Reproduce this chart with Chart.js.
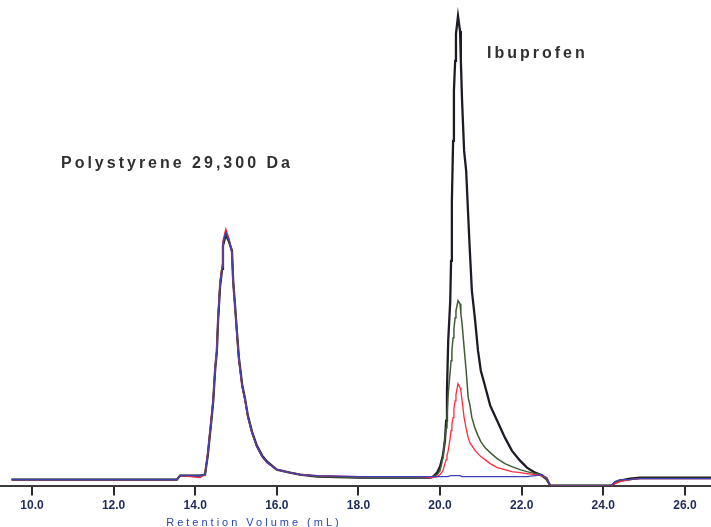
<!DOCTYPE html>
<html>
<head>
<meta charset="utf-8">
<script src="https://cdn.jsdelivr.net/npm/chart.js@4.4.1/dist/chart.umd.min.js"></script>
<style>
  html, body { margin: 0; padding: 0; background: #fff; }
  #chart { display: block; }
</style>
</head>
<body>
<canvas id="chart" width="711" height="527"></canvas>
<script>
// Retention volume grid (mL), shared by all four detector traces
const volume = [
  9.5, 12.0, 13.55, 13.63, 14.12, 14.24,
  14.31, 14.41, 14.44, 14.49, 14.53, 14.56, 14.61, 14.66, 14.68,
  14.75,
  14.83, 14.90, 14.93, 14.98, 15.02, 15.07, 15.15, 15.22, 15.29, 15.39, 15.51, 15.64, 15.76,
  16.00, 16.32, 16.57, 17.0, 18.0, 19.0, 19.6,
  19.76, 19.83, 19.93, 20.00, 20.07, 20.12, 20.15, 20.17, 20.20,
  20.25, 20.27, 20.29, 20.32, 20.34, 20.37, 20.39, 20.44,
  20.49, 20.51, 20.54, 20.59, 20.64, 20.69, 20.73, 20.78,
  20.86, 20.93, 21.00, 21.10, 21.23, 21.40, 21.59, 21.76,
  21.96, 22.13, 22.33, 22.50, 22.62, 22.70,
  24.20, 24.29, 24.41, 24.66, 24.90, 26.64,
];

// Detector response (arbitrary units)
const blackSignal = [
  -1, -1, -1, 3, 3, 4,
  24, 64, 77, 110, 127, 158, 193, 210, 233,
  244,
  237, 228, 198, 171, 148, 121, 94, 80, 63, 47, 33, 23, 17,
  9, 6, 4, 2, 1, 1, 1,
  1, 2, 6, 12, 23, 38, 58, 88, 138,
  178, 218, 278, 338, 388, 418, 445, 463,
  448, 418, 378, 328, 308, 263, 228, 188,
  158, 128, 108, 93, 73, 58, 41, 28,
  18, 11, 6, 3, -1, -7,
  -7, -4, -2, 0, 1, 1,
];

const greenSignal = [
  -1, -1, -1, 3, 3, 4,
  25, 65, 78, 111, 128, 160, 195, 211, 235,
  246,
  238, 227, 197, 170, 147, 120, 93, 79, 62, 46, 32, 22, 16,
  9, 6, 4, 2, 1, 1, 1,
  1, 2, 4, 8, 21, 41, 51, 61, 85,
  108, 118, 128, 141, 150, 161, 168, 178,
  175, 165, 155, 131, 108, 81, 74, 61,
  50, 43, 37, 31, 26, 20, 15, 12,
  9, 7, 5, 4, -2, -7,
  -7, -4, -2, -1, 0, 0,
];

const redSignal = [
  -1, -1, -1, 3, 1, 4,
  27, 67, 80, 113, 130, 163, 198, 214, 238,
  250,
  240, 226, 196, 169, 146, 119, 92, 79, 62, 46, 32, 22, 16,
  9, 6, 4, 3, 2, 2, 2,
  1, 1, 2, 4, 8, 15, 19, 23, 28,
  41, 48, 54, 61, 70, 78, 84, 95,
  91, 88, 78, 61, 50, 41, 36, 33,
  28, 25, 22, 19, 15, 11, 9, 7,
  6, 5, 4, 3, 1, -7,
  -7, -5, -3, -1, 0, 0,
];

const blueSignal = [
  -1, -1, -1, 3, 3, 4,
  26, 66, 79, 112, 129, 162, 196, 212, 236,
  247,
  239, 226, 196, 169, 146, 119, 92, 79, 62, 46, 32, 22, 16,
  9, 6, 4, 3, 2, 2, 2,
  2, 2, 2, 2, 2, 2, 2, 2, 2,
  3, 3, 3, 3, 3, 3, 3, 3,
  3, 3, 2, 2, 2, 2, 2, 2,
  2, 2, 2, 2, 2, 2, 2, 2,
  2, 2, 3, 4, 0, -7,
  -7, -3, -1, -1, 0, 0,
];

const xTicks = [10, 12, 14, 16, 18, 20, 22, 24, 26];

// Peak labels: [text, volume, response]
const peakLabels = [
  ['Polystyrene 29,300 Da', 10.71, 315],
  ['Ibuprofen', 21.15, 425],
];
const axisTitle = 'Retention Volume (mL)';

function series(values) {
  return volume.map((v, i) => ({ x: v, y: values[i] }));
}

const textPlugin = {
  id: 'chromatogramText',
  afterDraw(chart) {
    const { ctx, scales: { x, y }, chartArea } = chart;
    ctx.save();
    ctx.textBaseline = 'middle';
    ctx.textAlign = 'left';
    ctx.fillStyle = '#303030';
    ctx.font = 'bold 16px "Liberation Sans", Arial, sans-serif';
    ctx.letterSpacing = '3px';
    peakLabels.forEach(([text, vx, vy]) => {
      ctx.fillText(text, x.getPixelForValue(vx), y.getPixelForValue(vy));
    });
    ctx.fillStyle = '#2c46b0';
    ctx.font = '11px "Liberation Sans", Arial, sans-serif';
    ctx.letterSpacing = '3px';
    ctx.textAlign = 'center';
    ctx.fillText(axisTitle, x.getPixelForValue(15.44), chartArea.bottom + 37);
    ctx.restore();
  },
};

const trace = (label, values, color, width, order) => ({
  label,
  data: series(values),
  borderColor: color,
  borderWidth: width,
  pointRadius: 0,
  tension: 0,
  fill: false,
  order,
});

new Chart(document.getElementById('chart'), {
  type: 'line',
  data: {
    datasets: [
      trace('Trace 1', blackSignal, '#1c1c26', 2.3, 3),
      trace('Trace 2', greenSignal, '#3f5c34', 1.5, 2),
      trace('Trace 3', redSignal, '#ff2a3c', 1.3, 1),
      trace('Trace 4', blueSignal, '#3e40b8', 1.3, 0),
    ],
  },
  options: {
    responsive: false,
    animation: false,
    devicePixelRatio: 1,
    layout: { padding: { left: 0, right: 0, top: 0, bottom: 11 } },
    plugins: {
      legend: { display: false },
      tooltip: { enabled: false },
    },
    scales: {
      x: {
        type: 'linear',
        min: 9.216,
        max: 26.64,
        afterBuildTicks: (axis) => {
          axis.ticks = xTicks.map((v) => ({ value: v }));
        },
        ticks: {
          callback: (v) => Number(v).toFixed(1),
          color: '#1e2a5a',
          font: { family: '"Liberation Sans", Arial, sans-serif', size: 12, weight: 'bold' },
          padding: 3,
          maxRotation: 0,
          autoSkip: false,
        },
        grid: {
          drawOnChartArea: false,
          drawTicks: true,
          tickLength: 10,
          lineWidth: 2,
          color: '#2a2a2a',
        },
        border: { display: true, width: 2, color: '#3a3a3a' },
      },
      y: {
        display: false,
        min: -7,
        max: 479,
      },
    },
  },
  plugins: [textPlugin],
});
</script>
</body>
</html>
